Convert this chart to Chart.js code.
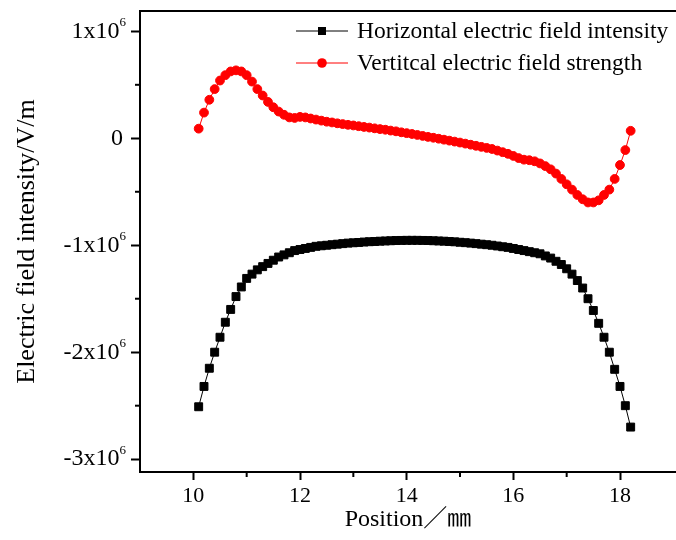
<!DOCTYPE html>
<html>
<head>
<meta charset="utf-8">
<title>Electric field intensity</title>
<script src="https://cdn.jsdelivr.net/npm/chart.js@4.4.1/dist/chart.umd.min.js"></script>
<style>
    html, body { margin: 0; padding: 0; background: #fff; overflow: hidden; }
    canvas { display: block; }
</style>
</head>
<body>
<canvas id="fieldChart" width="676" height="540"></canvas>
<script>
// Position along the sample, mm
const positions = [
    10.1, 10.2, 10.3, 10.4, 10.5, 10.6, 10.7, 10.8, 10.9, 11.0,
    11.1, 11.2, 11.3, 11.4, 11.5, 11.6, 11.7, 11.8, 11.9, 12.0,
    12.1, 12.2, 12.3, 12.4, 12.5, 12.6, 12.7, 12.8, 12.9, 13.0,
    13.1, 13.2, 13.3, 13.4, 13.5, 13.6, 13.7, 13.8, 13.9, 14.0,
    14.1, 14.2, 14.3, 14.4, 14.5, 14.6, 14.7, 14.8, 14.9, 15.0,
    15.1, 15.2, 15.3, 15.4, 15.5, 15.6, 15.7, 15.8, 15.9, 16.0,
    16.1, 16.2, 16.3, 16.4, 16.5, 16.6, 16.7, 16.8, 16.9, 17.0,
    17.1, 17.2, 17.3, 17.4, 17.5, 17.6, 17.7, 17.8, 17.9, 18.0,
    18.1, 18.2
];

// Horizontal field, V/m
const horizontalField = [
    -2.51e6, -2.32e6, -2.15e6, -2.00e6, -1.86e6, -1.72e6, -1.60e6, -1.48e6, -1.39e6, -1.31e6,
    -1.27e6, -1.23e6, -1.20e6, -1.17e6, -1.14e6, -1.11e6, -1.09e6, -1.07e6, -1.05e6, -1.04e6,
    -1.03e6, -1.02e6, -1.01e6, -1.005e6, -1.0e6, -0.995e6, -0.99e6, -0.985e6, -0.98e6, -0.977e6,
    -0.974e6, -0.97e6, -0.967e6, -0.965e6, -0.962e6, -0.96e6, -0.958e6, -0.956e6, -0.955e6, -0.954e6,
    -0.954e6, -0.954e6, -0.955e6, -0.956e6, -0.958e6, -0.96e6, -0.962e6, -0.965e6, -0.968e6, -0.972e6,
    -0.976e6, -0.98e6, -0.985e6, -0.99e6, -0.995e6, -1.0e6, -1.007e6, -1.014e6, -1.02e6, -1.03e6,
    -1.04e6, -1.05e6, -1.06e6, -1.07e6, -1.08e6, -1.10e6, -1.12e6, -1.15e6, -1.18e6, -1.22e6,
    -1.27e6, -1.33e6, -1.40e6, -1.50e6, -1.61e6, -1.73e6, -1.86e6, -2.00e6, -2.16e6, -2.32e6,
    -2.50e6, -2.70e6
];

// Vertical field, V/m
const verticalField = [
    0.09e6, 0.24e6, 0.36e6, 0.46e6, 0.54e6, 0.59e6, 0.625e6, 0.635e6, 0.625e6, 0.59e6,
    0.53e6, 0.46e6, 0.40e6, 0.34e6, 0.29e6, 0.25e6, 0.22e6, 0.195e6, 0.19e6, 0.2e6,
    0.195e6, 0.185e6, 0.175e6, 0.165e6, 0.155e6, 0.148e6, 0.14e6, 0.133e6, 0.126e6, 0.12e6,
    0.113e6, 0.106e6, 0.1e6, 0.093e6, 0.086e6, 0.08e6, 0.072e6, 0.065e6, 0.056e6, 0.048e6,
    0.04e6, 0.031e6, 0.022e6, 0.013e6, 0.005e6, -0.004e6, -0.013e6, -0.022e6, -0.031e6, -0.04e6,
    -0.05e6, -0.06e6, -0.07e6, -0.08e6, -0.09e6, -0.1e6, -0.115e6, -0.13e6, -0.145e6, -0.165e6,
    -0.185e6, -0.2e6, -0.205e6, -0.215e6, -0.235e6, -0.26e6, -0.29e6, -0.33e6, -0.38e6, -0.43e6,
    -0.48e6, -0.53e6, -0.57e6, -0.6e6, -0.6e6, -0.58e6, -0.53e6, -0.48e6, -0.38e6, -0.25e6,
    -0.11e6, 0.07e6
];

const seriesLabels = ['Horizontal electric field intensity', 'Vertitcal electric field strength'];

const xTicks = [10, 12, 14, 16, 18];
const xMinorTicks = [11, 13, 15, 17];
const yTicks = [-3e6, -2e6, -1e6, 0, 1e6];
const yMinorTicks = [-2.5e6, -1.5e6, -0.5e6, 0.5e6];

const SERIF = '"Liberation Serif", "Times New Roman", serif';

// Top frame line, minor ticks, y labels with exponents and the legend
const decorations = {
    id: 'decorations',
    afterDraw(chart) {
        const ctx = chart.ctx;
        const area = chart.chartArea;
        const xs = chart.scales.x;
        const ys = chart.scales.y;
        ctx.save();
        ctx.strokeStyle = '#000';
        ctx.lineWidth = 2;
        ctx.beginPath();
        ctx.moveTo(area.left - 1, area.top);
        ctx.lineTo(area.right, area.top);
        ctx.stroke();

        xMinorTicks.forEach(v => {
            const px = xs.getPixelForValue(v);
            ctx.beginPath();
            ctx.moveTo(px, area.bottom);
            ctx.lineTo(px, area.bottom + 5);
            ctx.stroke();
        });
        yMinorTicks.forEach(v => {
            const py = ys.getPixelForValue(v);
            ctx.beginPath();
            ctx.moveTo(area.left, py);
            ctx.lineTo(area.left - 5, py);
            ctx.stroke();
        });

        // y tick labels: "1x10" + superscript 6
        ctx.fillStyle = '#000';
        ctx.textAlign = 'right';
        const labelRight = area.left - 14;
        yTicks.forEach(v => {
            const py = ys.getPixelForValue(v);
            if (v === 0) {
                ctx.font = '24px ' + SERIF;
                ctx.textBaseline = 'middle';
                ctx.fillText('0', labelRight - 3, py);
                return;
            }
            ctx.font = '13px ' + SERIF;
            ctx.textBaseline = 'alphabetic';
            ctx.fillText('6', labelRight, py - 5);
            const supW = ctx.measureText('6').width;
            ctx.font = '24px ' + SERIF;
            ctx.textBaseline = 'middle';
            ctx.fillText((v / 1e6) + 'x10', labelRight - supW, py);
        });

        // legend
        const rows = [31, 63];
        ctx.textAlign = 'left';
        ctx.textBaseline = 'middle';
        ctx.font = '23.5px ' + SERIF;
        chart.data.datasets.forEach((ds, i) => {
            const y = rows[i];
            ctx.strokeStyle = ds.borderColor;
            ctx.lineWidth = 1;
            ctx.beginPath();
            ctx.moveTo(296, y);
            ctx.lineTo(348, y);
            ctx.stroke();
            ctx.fillStyle = ds.pointBackgroundColor;
            ctx.beginPath();
            if (ds.pointStyle === 'rect') {
                ctx.rect(322 - 4, y - 4, 8, 8);
            } else {
                ctx.arc(322, y, 4.8, 0, Math.PI * 2);
            }
            ctx.fill();
            ctx.fillStyle = '#000';
            ctx.fillText(ds.label, 357, y + 1);
        });
        ctx.restore();
    }
};

const ctx = document.getElementById('fieldChart').getContext('2d');
new Chart(ctx, {
    type: 'line',
    data: {
        datasets: [
            {
                label: seriesLabels[0],
                data: positions.map((p, i) => ({ x: p, y: horizontalField[i] })),
                borderColor: '#000000',
                borderWidth: 1,
                pointStyle: 'rect',
                pointRadius: 5.6,
                pointBorderWidth: 1,
                pointBackgroundColor: '#000000',
                pointBorderColor: '#000000'
            },
            {
                label: seriesLabels[1],
                data: positions.map((p, i) => ({ x: p, y: verticalField[i] })),
                borderColor: '#ff0000',
                borderWidth: 1,
                pointStyle: 'circle',
                pointRadius: 4.4,
                pointBorderWidth: 1,
                pointBackgroundColor: '#ff0000',
                pointBorderColor: '#ff0000'
            }
        ]
    },
    options: {
        responsive: false,
        animation: false,
        devicePixelRatio: 1,
        layout: { autoPadding: false, padding: { top: 11, left: 0, right: 0, bottom: 0 } },
        plugins: {
            legend: { display: false },
            tooltip: { enabled: false }
        },
        scales: {
            x: {
                type: 'linear',
                min: 9,
                max: 19.05,
                afterBuildTicks: scale => { scale.ticks = xTicks.map(v => ({ value: v })); },
                afterFit: scale => { scale.height = 68; },
                border: { display: true, color: '#000', width: 2 },
                grid: { drawOnChartArea: false, drawTicks: true, tickLength: 8, tickWidth: 2, tickColor: '#000' },
                ticks: {
                    color: '#000',
                    font: { family: SERIF, size: 22 },
                    padding: 3,
                    maxRotation: 0,
                    autoSkip: false
                },
                title: {
                    display: true,
                    text: 'Position／㎜',
                    color: '#000',
                    font: { family: SERIF + ', "Noto Sans CJK SC"', size: 24 },
                    padding: { top: 0, bottom: 6 }
                }
            },
            y: {
                type: 'linear',
                min: -3.12e6,
                max: 1.19e6,
                afterBuildTicks: scale => { scale.ticks = yTicks.map(v => ({ value: v })); },
                afterFit: scale => { scale.width = 140; },
                border: { display: true, color: '#000', width: 2 },
                grid: { drawOnChartArea: false, drawTicks: true, tickLength: 9, tickWidth: 2, tickColor: '#000' },
                ticks: { display: false },
                title: {
                    display: true,
                    text: 'Electric field intensity/V/m',
                    color: '#000',
                    font: { family: SERIF, size: 26 },
                    padding: { top: 12, bottom: 0 }
                }
            }
        }
    },
    plugins: [decorations]
});
</script>
</body>
</html>
